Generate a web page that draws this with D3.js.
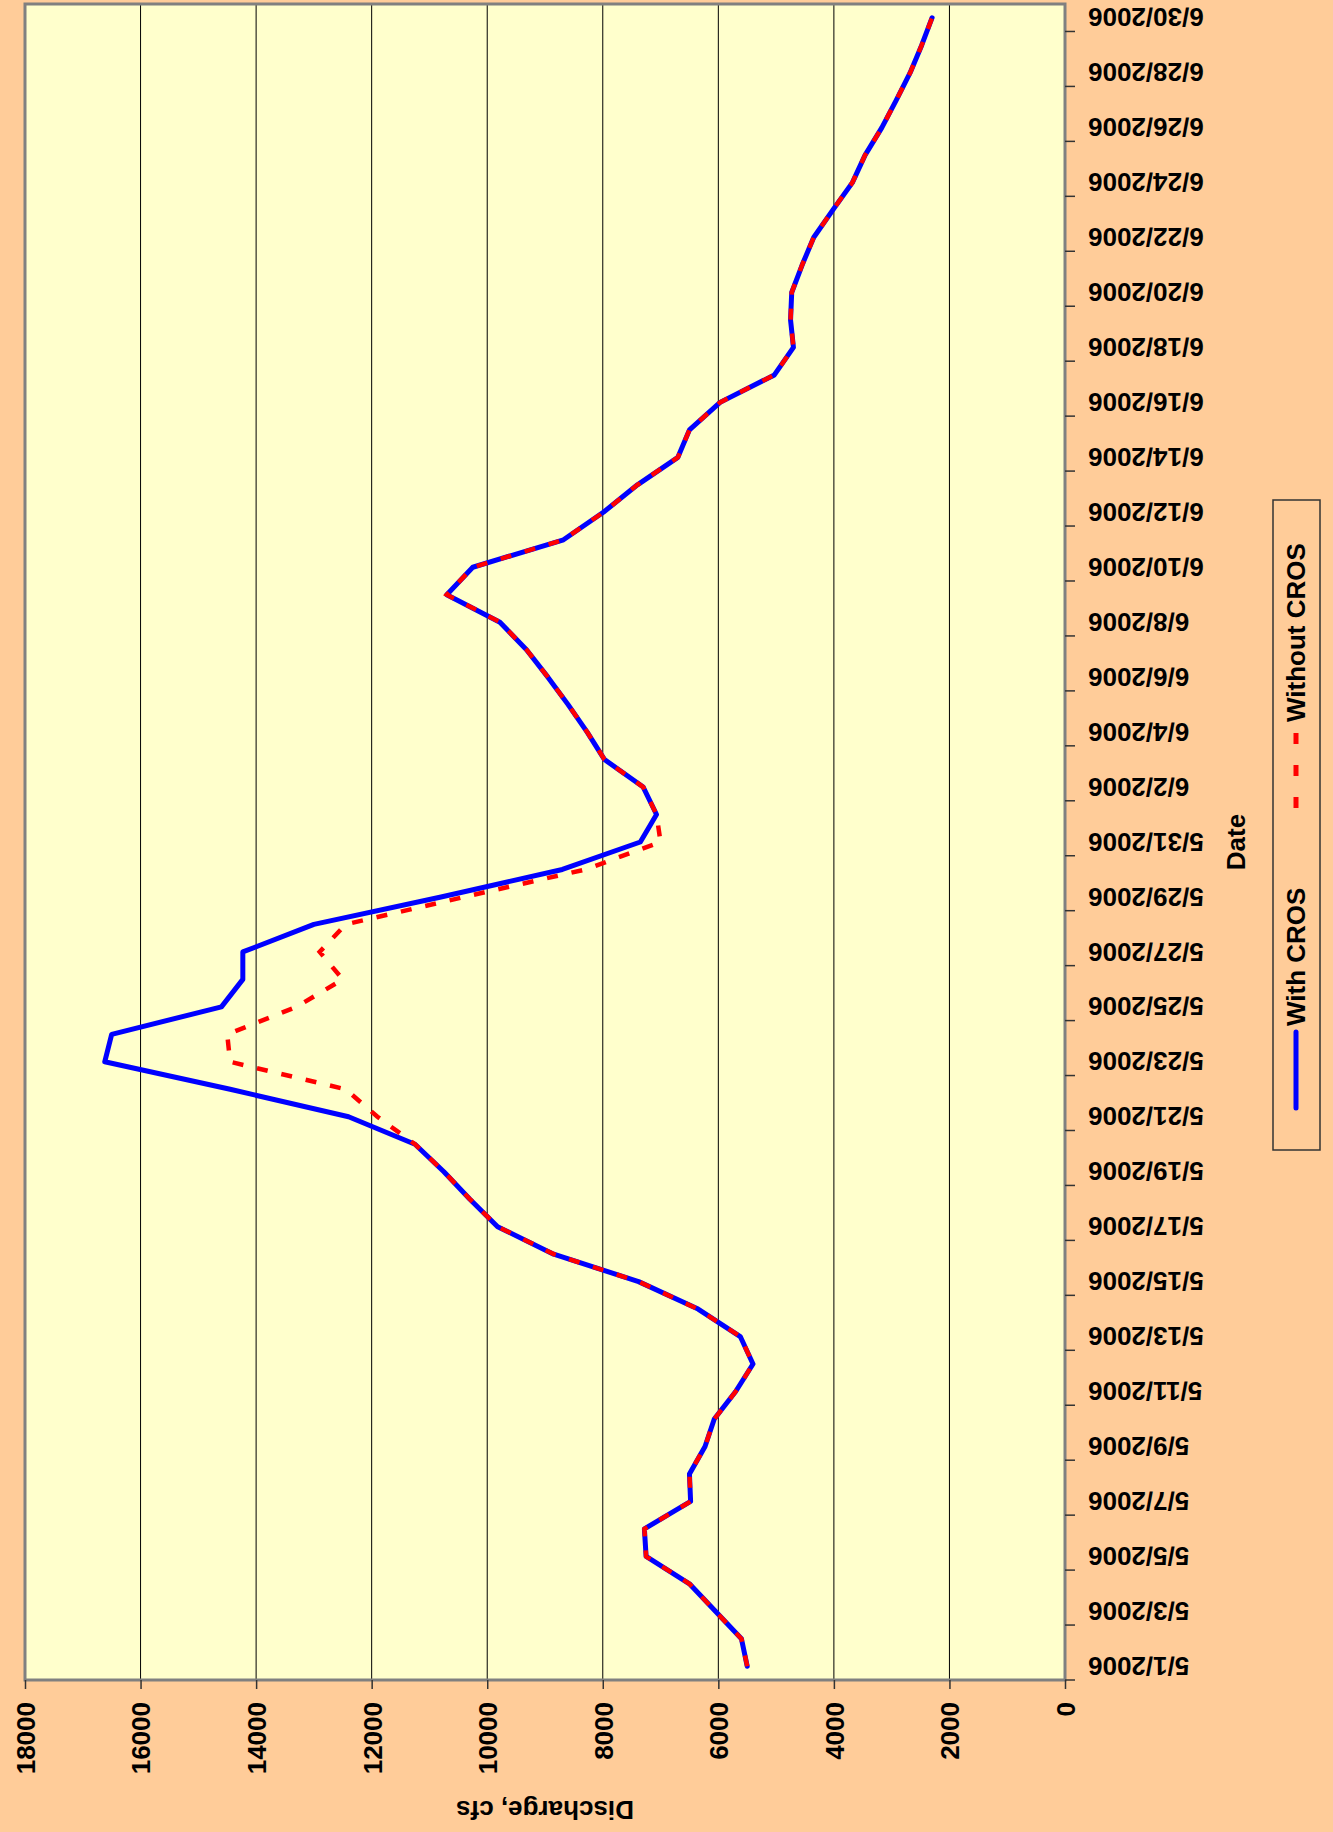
<!DOCTYPE html>
<html>
<head>
<meta charset="utf-8">
<script src="https://cdn.jsdelivr.net/npm/d3@7"></script>
<style>
  html, body { margin: 0; padding: 0; background: #FFCC99; }
  svg { display: block; }
</style>
</head>
<body>
<svg id="chart" width="1333" height="1832"></svg>
<script>
// Daily categories, 5/1/2006 .. 6/30/2006
const dates = [
  "5/1/2006","5/2/2006","5/3/2006","5/4/2006","5/5/2006","5/6/2006","5/7/2006","5/8/2006",
  "5/9/2006","5/10/2006","5/11/2006","5/12/2006","5/13/2006","5/14/2006","5/15/2006","5/16/2006",
  "5/17/2006","5/18/2006","5/19/2006","5/20/2006","5/21/2006","5/22/2006","5/23/2006","5/24/2006",
  "5/25/2006","5/26/2006","5/27/2006","5/28/2006","5/29/2006","5/30/2006","5/31/2006",
  "6/1/2006","6/2/2006","6/3/2006","6/4/2006","6/5/2006","6/6/2006","6/7/2006","6/8/2006",
  "6/9/2006","6/10/2006","6/11/2006","6/12/2006","6/13/2006","6/14/2006","6/15/2006","6/16/2006",
  "6/17/2006","6/18/2006","6/19/2006","6/20/2006","6/21/2006","6/22/2006","6/23/2006","6/24/2006",
  "6/25/2006","6/26/2006","6/27/2006","6/28/2006","6/29/2006","6/30/2006"
];

// Discharge, cfs — with CROS
const withCros = [
  5500, 5600, 6050, 6500, 7250, 7280, 6480, 6500,
  6230, 6070, 5700, 5400, 5620, 6350, 7380, 8850,
  9820, 10300, 10750, 11250, 12400, 14450, 16620, 16500,
  14600, 14230, 14230, 13000, 10800, 8700, 7350,
  7070, 7300, 7970, 8270, 8600, 8950, 9320, 9780,
  10700, 10250, 8680, 7990, 7400, 6700, 6500, 5970,
  5030, 4700, 4750, 4730, 4550, 4350, 4020, 3680,
  3460, 3170, 2920, 2680, 2480, 2300
];

// Discharge, cfs — without CROS
const withoutCros = [
  5500, 5600, 6050, 6500, 7250, 7280, 6480, 6500,
  6230, 6070, 5700, 5400, 5620, 6350, 7380, 8850,
  9820, 10300, 10750, 11250, 11900, 12450, 14450, 14500,
  13300, 12500, 12900, 12450, 10400, 8300, 7000,
  7070, 7300, 7970, 8270, 8600, 8950, 9320, 9780,
  10700, 10250, 8680, 7990, 7400, 6700, 6500, 5970,
  5030, 4700, 4750, 4730, 4550, 4350, 4020, 3680,
  3460, 3170, 2920, 2680, 2480, 2300
];

const valueTicks = [0, 2000, 4000, 6000, 8000, 10000, 12000, 14000, 16000, 18000];
const seriesNames = ["With CROS", "Without CROS"];
const valueTitle = "Discharge, cfs";
const dateTitle = "Date";

// every second date carries a label
const labelDates = dates.filter((d, i) => i % 2 === 0);

const W = 1333, H = 1832;
const plot = { left: 25, right: 1065, top: 4, bottom: 1680 };
const FONT = "'Liberation Sans', Arial, Helvetica, sans-serif";
const FS = 26;

const svg = d3.select("#chart");
svg.append("rect").attr("width", W).attr("height", H).attr("fill", "#FFCC99");

// value scale runs right-to-left along the bottom; dates run bottom-to-top
const x = d3.scaleLinear().domain([0, 18000]).range([plot.right, plot.left]);
const y = d3.scaleBand().domain(dates).range([plot.bottom, plot.top]).paddingInner(0).paddingOuter(0);
const yc = d => y(d) + y.bandwidth() / 2;

// plot area
svg.append("rect")
  .attr("x", plot.left).attr("y", plot.top)
  .attr("width", plot.right - plot.left).attr("height", plot.bottom - plot.top)
  .attr("fill", "#FFFFCC");

// gridlines
svg.append("g").selectAll("line")
  .data(valueTicks.filter(v => v > 0 && v < 18000))
  .join("line")
  .attr("x1", d => x(d)).attr("x2", d => x(d))
  .attr("y1", plot.top).attr("y2", plot.bottom)
  .attr("stroke", "#000").attr("stroke-width", 1);

// plot frame
svg.append("rect")
  .attr("x", plot.left).attr("y", plot.top)
  .attr("width", plot.right - plot.left).attr("height", plot.bottom - plot.top)
  .attr("fill", "none").attr("stroke", "#808080").attr("stroke-width", 3);

// value axis (bottom), labels turned to read upward
const gx = svg.append("g")
  .attr("transform", `translate(0,${plot.bottom})`)
  .call(d3.axisBottom(x).tickValues(valueTicks).tickSize(9).tickFormat(d3.format("d")));
gx.select(".domain").remove();
gx.selectAll(".tick line").attr("stroke", "#333").attr("stroke-width", 1.5);
gx.selectAll(".tick text")
  .attr("transform", "rotate(-90)")
  .attr("x", -22).attr("y", 0).attr("dy", "0.36em")
  .attr("text-anchor", "end")
  .attr("fill", "#000")
  .style("font-family", FONT).style("font-size", FS + "px").style("font-weight", "bold");

// date axis (right), labels upside down
const gy = svg.append("g")
  .attr("transform", `translate(${plot.right},0)`)
  .call(d3.axisRight(y).tickValues(labelDates).tickSize(0).tickPadding(0));
gy.select(".domain").remove();
gy.selectAll(".tick text")
  .attr("transform", "rotate(180)")
  .attr("x", -23).attr("y", 0).attr("dy", "0.36em")
  .attr("text-anchor", "end")
  .attr("fill", "#000")
  .style("font-family", FONT).style("font-size", FS + "px").style("font-weight", "bold");

// date tick marks sit on the category boundaries
svg.append("g").selectAll("line")
  .data(labelDates)
  .join("line")
  .attr("x1", plot.right).attr("x2", plot.right + 10)
  .attr("y1", d => y(d) + y.bandwidth()).attr("y2", d => y(d) + y.bandwidth())
  .attr("stroke", "#333").attr("stroke-width", 1.5);

// series lines
const line = d3.line().x(d => x(d.v)).y(d => yc(d.date));
const blueData = dates.map((d, i) => ({ date: d, v: withCros[i] }));
const redData = dates.map((d, i) => ({ date: d, v: withoutCros[i] }));

svg.append("path").datum(blueData)
  .attr("d", line)
  .attr("fill", "none").attr("stroke", "#0000FF")
  .attr("stroke-width", 5).attr("stroke-linejoin", "round").attr("stroke-linecap", "round");

svg.append("path").datum(redData)
  .attr("d", line)
  .attr("fill", "none").attr("stroke", "#FF0000")
  .attr("stroke-width", 4.5).attr("stroke-dasharray", "11,14");

// axis titles
svg.append("text")
  .attr("transform", `translate(${(plot.left + plot.right) / 2},1810) rotate(180)`)
  .attr("text-anchor", "middle").attr("dy", "0.36em")
  .style("font-family", FONT).style("font-size", FS + "px").style("font-weight", "bold")
  .text(valueTitle);

svg.append("text")
  .attr("transform", `translate(1236,${(plot.top + plot.bottom) / 2}) rotate(-90)`)
  .attr("text-anchor", "middle").attr("dy", "0.36em")
  .style("font-family", FONT).style("font-size", FS + "px").style("font-weight", "bold")
  .text(dateTitle);

// legend
const lg = svg.append("g");
lg.append("rect")
  .attr("x", 1273).attr("y", 500).attr("width", 47).attr("height", 650)
  .attr("fill", "none").attr("stroke", "#333").attr("stroke-width", 1.5);

const legendItems = [
  { name: seriesNames[0], y0: 1108, y1: 1032, ty: 1026, color: "#0000FF", dash: null, w: 5 },
  { name: seriesNames[1], y0: 808, y1: 733, ty: 722, color: "#FF0000", dash: "11,21", w: 5 }
];
legendItems.forEach(it => {
  lg.append("line")
    .attr("x1", 1296).attr("x2", 1296).attr("y1", it.y0).attr("y2", it.y1)
    .attr("stroke", it.color).attr("stroke-width", it.w)
    .attr("stroke-dasharray", it.dash)
    .attr("stroke-linecap", it.dash ? "butt" : "round");
  lg.append("text")
    .attr("transform", `translate(1296,${it.ty}) rotate(-90)`)
    .attr("text-anchor", "start").attr("dy", "0.36em")
    .style("font-family", FONT).style("font-size", FS + "px").style("font-weight", "bold")
    .text(it.name);
});
</script>
</body>
</html>
